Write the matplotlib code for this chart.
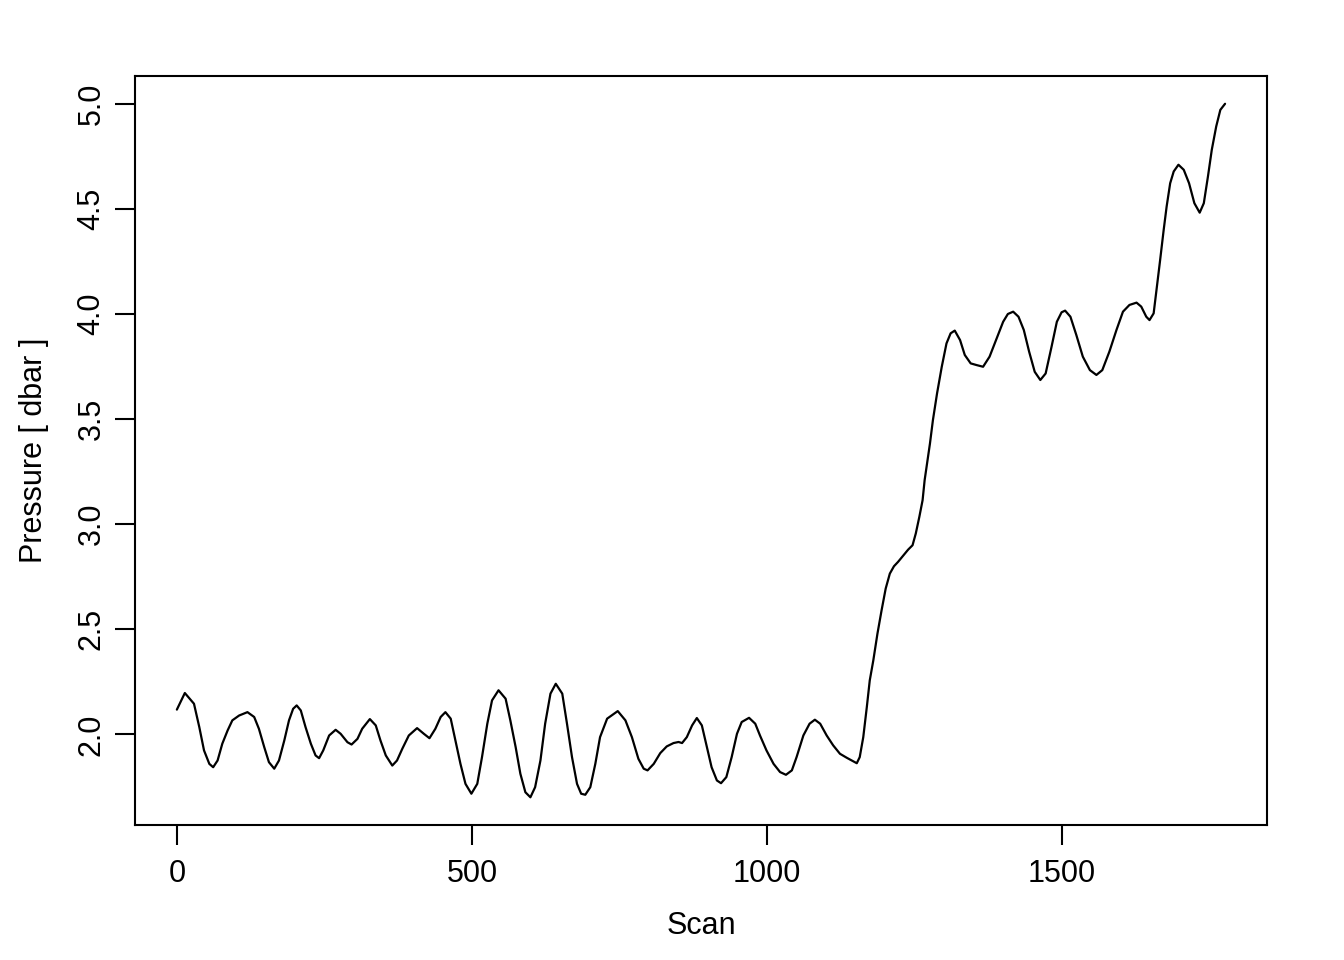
import matplotlib.pyplot as plt
import numpy as np

# pressure trace
scan = [0, 13.5, 29, 38, 46, 55, 61.5, 69, 77, 86, 94, 105.5, 119.6, 131, 139, 148, 156, 165,
        173, 182, 190, 197, 203, 210, 218, 227, 235, 241, 248, 258, 269, 277.5, 289, 296, 306,
        314, 327, 337, 345, 354, 365, 373, 382, 393, 407, 418.5, 428, 438, 447, 455, 464, 472,
        480.5, 489, 499, 509, 517, 526, 534, 545, 557, 565, 574, 582, 590.5, 599, 607, 616, 624,
        633, 642, 653, 661, 669.5, 678, 685, 692, 700.5, 709, 717, 729, 747, 760, 771, 782, 791,
        797.5, 808, 819, 830, 841.5, 850, 856, 864, 873, 881, 889.5, 898, 906, 915, 922, 931,
        940, 949, 957, 969.5, 980, 988, 999, 1011, 1022, 1032, 1042, 1050, 1061.5, 1072, 1081,
        1090, 1101, 1112, 1123.5, 1135, 1152, 1157, 1163, 1169, 1174, 1180, 1187, 1194, 1201,
        1208, 1215, 1222, 1231, 1239, 1246.5, 1252, 1258, 1263.5, 1267, 1276, 1281, 1288, 1296,
        1304, 1311, 1318, 1327, 1335, 1345, 1355, 1366, 1377, 1389, 1400, 1408, 1417, 1426, 1435,
        1444, 1453.5, 1463, 1472, 1482, 1491, 1499, 1505, 1514, 1524, 1535, 1547, 1558, 1568,
        1580, 1592, 1603, 1614, 1626, 1634, 1642.5, 1648, 1655, 1660.5, 1666, 1672, 1677, 1683,
        1689, 1697, 1706, 1715, 1724, 1733, 1740, 1747, 1753.5, 1761, 1768, 1776]
pressure = [2.118, 2.197, 2.146, 2.035, 1.924, 1.860, 1.844, 1.876, 1.956, 2.019, 2.067, 2.090,
            2.106, 2.083, 2.027, 1.940, 1.868, 1.837, 1.876, 1.971, 2.067, 2.122, 2.138, 2.114,
            2.035, 1.956, 1.900, 1.887, 1.924, 1.995, 2.022, 2.003, 1.963, 1.952, 1.979, 2.027,
            2.073, 2.043, 1.971, 1.900, 1.852, 1.876, 1.932, 1.995, 2.030, 2.003, 1.982, 2.027,
            2.083, 2.106, 2.075, 1.971, 1.860, 1.765, 1.718, 1.765, 1.892, 2.051, 2.162, 2.210,
            2.170, 2.067, 1.940, 1.813, 1.725, 1.701, 1.749, 1.876, 2.051, 2.194, 2.241, 2.194,
            2.051, 1.892, 1.765, 1.718, 1.713, 1.749, 1.860, 1.987, 2.075, 2.111, 2.067, 1.987,
            1.884, 1.837, 1.829, 1.860, 1.911, 1.943, 1.959, 1.964, 1.959, 1.987, 2.043, 2.078,
            2.043, 1.940, 1.844, 1.781, 1.768, 1.797, 1.892, 2.003, 2.059, 2.079, 2.051, 1.995,
            1.924, 1.860, 1.821, 1.808, 1.829, 1.892, 1.995, 2.051, 2.070, 2.051, 1.995, 1.948,
            1.908, 1.889, 1.863, 1.892, 1.987, 2.130, 2.257, 2.352, 2.479, 2.590, 2.694, 2.765,
            2.800, 2.821, 2.852, 2.879, 2.900, 2.956, 3.035, 3.114, 3.210, 3.384, 3.495, 3.622,
            3.749, 3.860, 3.908, 3.921, 3.876, 3.805, 3.765, 3.757, 3.749, 3.797, 3.884, 3.963,
            4.000, 4.011, 3.987, 3.924, 3.821, 3.725, 3.686, 3.717, 3.844, 3.963, 4.008, 4.016,
            3.987, 3.900, 3.797, 3.733, 3.710, 3.733, 3.821, 3.924, 4.011, 4.043, 4.054, 4.035,
            3.987, 3.971, 4.003, 4.130, 4.257, 4.400, 4.511, 4.622, 4.678, 4.710, 4.686, 4.622,
            4.527, 4.482, 4.527, 4.654, 4.781, 4.892, 4.971, 5.000]

x_ticks = [0, 500, 1000, 1500]
y_ticks = [2.0, 2.5, 3.0, 3.5, 4.0, 4.5, 5.0]

plt.rcParams['font.family'] = ['Liberation Sans', 'DejaVu Sans']

fig = plt.figure(figsize=(13.44, 9.6), dpi=100)
ax = fig.add_axes([0.1004, 0.1406, 0.8423, 0.7802])

ax.plot(scan, pressure, color='black', linewidth=1.6,
        solid_joinstyle='round', solid_capstyle='round')

# R style 4% padding on both axes
xr = max(scan) - min(scan)
yr = max(pressure) - min(pressure)
ax.set_xlim(min(scan) - 0.04 * xr, max(scan) + 0.04 * xr)
ax.set_ylim(min(pressure) - 0.04 * yr, max(pressure) + 0.04 * yr)

ax.set_xticks(x_ticks)
ax.set_xticklabels([str(t) for t in x_ticks])
ax.set_yticks(y_ticks)
ax.set_yticklabels(['%.1f' % t for t in y_ticks])

for s in ax.spines.values():
    s.set_linewidth(1.5)
ax.tick_params(direction='out', length=14.4, width=1.5, labelsize=22)
ax.tick_params(axis='x', pad=10)
ax.tick_params(axis='y', pad=6, labelrotation=90)
for lab in ax.get_yticklabels():
    lab.set_va('center')

ax.set_xlabel('Scan', fontsize=22, labelpad=16)
ax.set_ylabel('Pressure [ dbar ]', fontsize=22, labelpad=20)

plt.savefig('out.png', dpi=100)
